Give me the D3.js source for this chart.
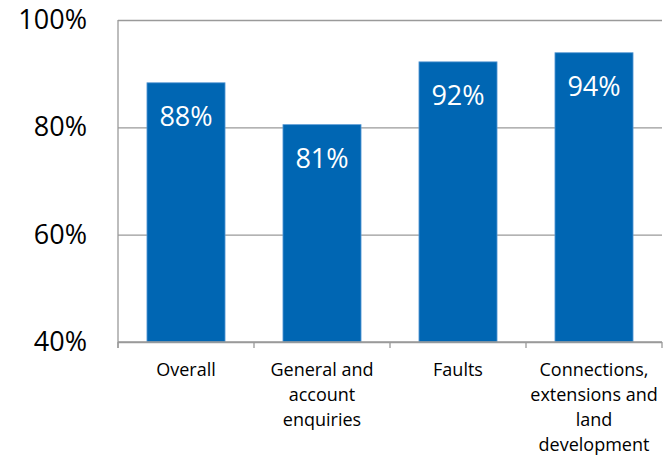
<!DOCTYPE html>
<html><head><meta charset="utf-8">
<script src="https://cdn.jsdelivr.net/npm/d3@7"></script>
<style>body{margin:0;background:#fff}svg{display:block}</style>
</head><body>
<svg id="c" width="663" height="456"></svg>
<script>
const categories = ["Overall", "General and account enquiries", "Faults", "Connections, extensions and land development"];
const categoryLines = [["Overall"], ["General and", "account", "enquiries"], ["Faults"], ["Connections,", "extensions and", "land", "development"]];
const values = [88.3, 80.5, 92.2, 93.9];
const valueLabels = ["88%", "81%", "92%", "94%"];
const yTicks = [40, 60, 80, 100];

const svg = d3.select("#c");
const font = "'Open Sans', sans-serif";
const x = d3.scaleBand().domain(categories).range([118, 662]).paddingInner(0.426).paddingOuter(0.213);
const y = d3.scaleLinear().domain([40, 100]).range([342, 20]);
const grid = "#9a9a9a";

// gridlines + y ticks
const ya = svg.append("g").attr("transform", "translate(118,0)")
  .call(d3.axisLeft(y).tickValues(yTicks).tickSize(10).tickFormat(d => d + "%"));
ya.select(".domain").remove();
ya.selectAll(".tick line").attr("stroke", grid).attr("stroke-width", 1.3).attr("x2", 662 - 118);
ya.selectAll(".tick text").attr("x", -31).attr("font-family", font).attr("font-size", 27).attr("fill", "#000");

svg.append("line").attr("x1", 118).attr("x2", 118).attr("y1", 20).attr("y2", 348).attr("stroke", grid).attr("stroke-width", 1.3);

// bars
svg.selectAll("rect.bar").data(categories).join("rect")
  .attr("x", d => x(d)).attr("width", x.bandwidth())
  .attr("y", (d, i) => y(values[i])).attr("height", (d, i) => y(40) - y(values[i]))
  .attr("fill", "#0066b3").attr("stroke", "#5a9bd5").attr("stroke-width", 0.8);

// value labels
svg.selectAll("text.val").data(categories).join("text")
  .attr("x", d => x(d) + x.bandwidth() / 2).attr("y", (d, i) => y(values[i]) + 43)
  .attr("text-anchor", "middle").attr("font-family", font).attr("font-size", 27).attr("fill", "#fff")
  .text((d, i) => valueLabels[i]);

// x axis
const xa = svg.append("g").attr("transform", "translate(0,342)");
xa.append("line").attr("x1", 118).attr("x2", 662).attr("stroke", grid).attr("stroke-width", 1.3);
const step = x.step();
d3.range(categories.length + 1).forEach(i => {
  const xx = 118 + i * step;
  xa.append("line").attr("x1", xx).attr("x2", xx).attr("y1", 0).attr("y2", 6).attr("stroke", grid).attr("stroke-width", 1.3);
});
categories.forEach((c, i) => {
  const t = svg.append("text").attr("font-family", font).attr("font-size", 18).attr("fill", "#000").attr("text-anchor", "middle");
  categoryLines[i].forEach((ln, j) => {
    t.append("tspan").attr("x", x(c) + x.bandwidth() / 2).attr("y", 376 + j * 25).text(ln);
  });
});
</script>
</body></html>
